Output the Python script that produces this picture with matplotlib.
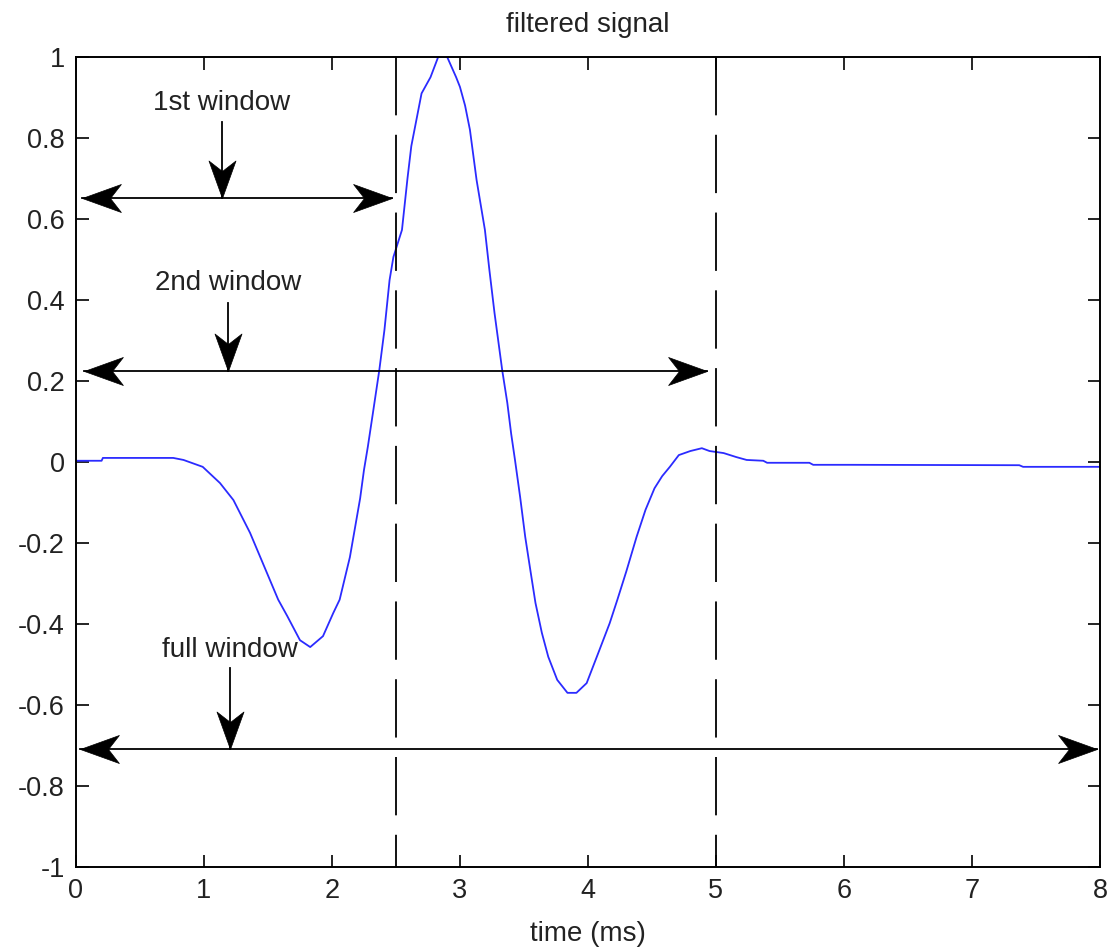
import numpy as np
import matplotlib
matplotlib.use("Agg")
import matplotlib.pyplot as plt
from matplotlib.path import Path

plt.rcParams['font.family'] = ['Liberation Sans', 'DejaVu Sans']
plt.rcParams['lines.scale_dashes'] = False

# Filtered signal samples (time in ms, normalised amplitude)
t = [0.0, 0.2, 0.21, 0.4, 0.6, 0.76, 0.84, 0.99, 1.125, 1.23, 1.36, 1.46,
     1.58, 1.65, 1.75, 1.83, 1.93, 2.01, 2.06, 2.14, 2.22, 2.25, 2.28, 2.32,
     2.37, 2.41, 2.45, 2.48, 2.547, 2.59, 2.62, 2.70, 2.77, 2.83, 2.90, 2.97,
     3.0, 3.04, 3.078, 3.13, 3.195, 3.23, 3.27, 3.33, 3.37, 3.40, 3.43, 3.47,
     3.51, 3.55, 3.59, 3.64, 3.69, 3.76, 3.84, 3.91, 3.99, 4.09, 4.17, 4.23,
     4.30, 4.38, 4.45, 4.52, 4.58, 4.64, 4.71, 4.80, 4.89, 4.95, 5.06, 5.16,
     5.24, 5.37, 5.4, 5.73, 5.76, 6.05, 7.37, 7.4, 8.0]
signal = [0.003, 0.003, 0.01, 0.01, 0.01, 0.01, 0.005, -0.012, -0.052, -0.094,
          -0.175, -0.25, -0.34, -0.38, -0.44, -0.457, -0.43, -0.373, -0.34,
          -0.235, -0.09, -0.02, 0.037, 0.121, 0.227, 0.326, 0.449, 0.506,
          0.573, 0.70, 0.78, 0.91, 0.95, 1.0, 1.0, 0.95, 0.926, 0.88, 0.82,
          0.696, 0.573, 0.474, 0.368, 0.227, 0.146, 0.07, 0.005, -0.086,
          -0.185, -0.267, -0.348, -0.422, -0.481, -0.538, -0.57, -0.57, -0.546,
          -0.464, -0.398, -0.34, -0.27, -0.185, -0.118, -0.065, -0.035, -0.012,
          0.017, 0.027, 0.034, 0.027, 0.022, 0.012, 0.005, 0.003, -0.002,
          -0.002, -0.007, -0.007, -0.008, -0.012, -0.012]

# window boundaries (ms)
boundaries = [2.5, 5.0]

# window annotations: label, arrow height, start/end of span, pointer x, text y, pointer top
win_labels = ['1st window', '2nd window', 'full window']
win_y = [0.652, 0.225, -0.709]
win_start = [0.05, 0.06, 0.03]
win_end = [2.47, 4.93, 7.98]
pointer_x = [1.14, 1.19, 1.20]
text_y = [0.886, 0.442, -0.464]
pointer_top = [0.84, 0.393, -0.509]

xticks = [0, 1, 2, 3, 4, 5, 6, 7, 8]
yticks = [-1, -0.8, -0.6, -0.4, -0.2, 0, 0.2, 0.4, 0.6, 0.8, 1]
ytick_labels = ['-1', '-0.8', '-0.6', '-0.4', '-0.2', '0', '0.2', '0.4', '0.6', '0.8', '1']

# swept arrowheads, tip at the origin
codes = [Path.MOVETO, Path.LINETO, Path.LINETO, Path.LINETO, Path.CLOSEPOLY]
head_right = Path([(0, 0), (-1, 0.36), (-0.72, 0), (-1, -0.36), (0, 0)], codes)
head_left = Path([(0, 0), (1, 0.36), (0.72, 0), (1, -0.36), (0, 0)], codes)
head_down = Path([(0, 0), (-0.36, 1), (0, 0.72), (0.36, 1), (0, 0)], codes)

fig = plt.figure(figsize=(11.11, 9.49), dpi=100)
ax = fig.add_axes([0.0684, 0.0864, 0.9216, 0.8536])

ax.plot(t, signal, color='#2b2bff', lw=1.3)

# dashed boundaries, drawn top to bottom
for b in boundaries:
    ax.plot([b, b], [1, -1], color='black', lw=1.3, dashes=(42, 14))

txt_color = '#222222'
for i in range(len(win_labels)):
    y = win_y[i]
    ax.plot([win_start[i], win_end[i]], [y, y], color='black', lw=1.3)
    ax.plot(win_end[i], y, marker=head_right, ms=56, color='black', mew=0.5)
    ax.plot(win_start[i], y, marker=head_left, ms=56, color='black', mew=0.5)
    ax.plot([pointer_x[i], pointer_x[i]], [pointer_top[i], y], color='black', lw=1.3)
    ax.plot(pointer_x[i], y, marker=head_down, ms=54, color='black', mew=0.5)
    ax.text(pointer_x[i], text_y[i], win_labels[i], ha='center', va='center',
            fontsize=20, color=txt_color)

ax.set_xlim(0, 8)
ax.set_ylim(-1, 1)
ax.set_xticks(xticks)
ax.set_xticklabels([str(v) for v in xticks])
ax.set_yticks(yticks)
ax.set_yticklabels(ytick_labels)
ax.tick_params(direction='in', length=9, width=1.2, top=True, right=True,
               labelsize=19.5, labelcolor=txt_color, pad=8)
for s in ax.spines.values():
    s.set_linewidth(1.4)

ax.set_title('filtered signal', fontsize=20, color=txt_color, pad=18)
ax.set_xlabel('time (ms)', fontsize=20, color=txt_color, labelpad=12)

fig.savefig('out.png', dpi=100)
